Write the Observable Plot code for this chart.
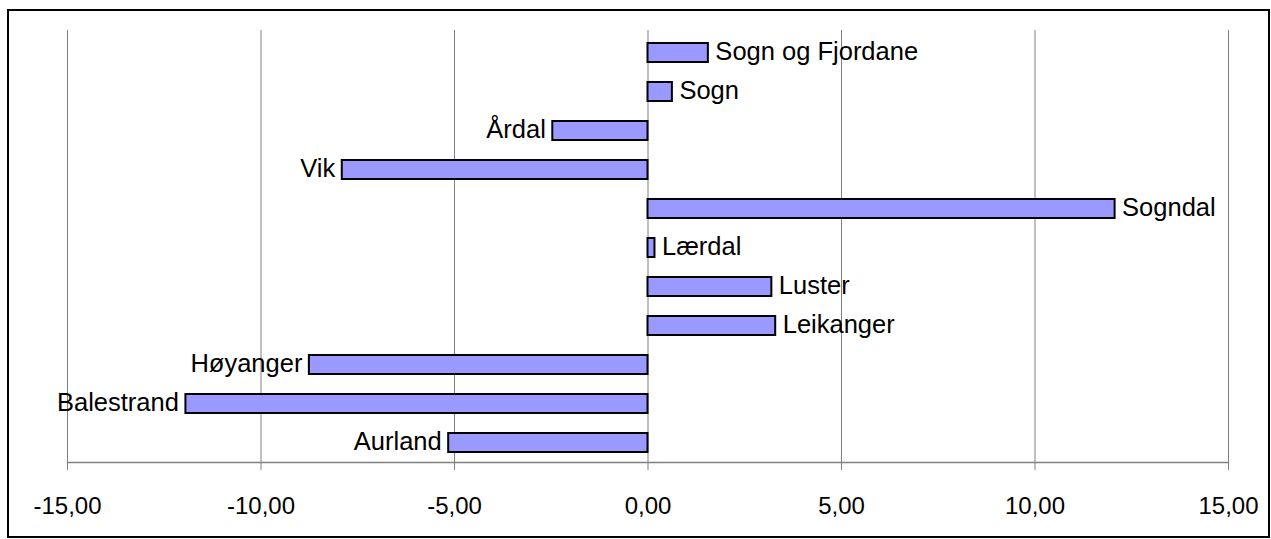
<!DOCTYPE html>
<html>
<head>
<meta charset="utf-8">
<script src="https://cdn.jsdelivr.net/npm/d3@7"></script>
<script src="https://cdn.jsdelivr.net/npm/@observablehq/plot@0.6"></script>
<style>
  html, body { margin: 0; padding: 0; background: #fff; }
  #wrap { position: relative; width: 1271px; height: 539px; overflow: hidden; }
  #frame { position: absolute; left: 7px; top: 9px; right: 1px; bottom: 1px; border: 2px solid #000; box-sizing: border-box; pointer-events: none; }
  #chart { position: absolute; left: 0; top: 0; }
</style>
</head>
<body>
<div id="wrap"><div id="chart"></div><div id="frame"></div></div>
<script>
const regions = ["Sogn og Fjordane", "Sogn", "Årdal", "Vik", "Sogndal", "Lærdal", "Luster", "Leikanger", "Høyanger", "Balestrand", "Aurland"];
const values  = [1.56, 0.63, -2.46, -7.90, 12.07, 0.18, 3.20, 3.30, -8.75, -11.94, -5.15];
const xTicks  = [-15, -10, -5, 0, 5, 10, 15];

const data = regions.map((r, i) => ({region: r, value: values[i]}));
const fmt = d => (d < 0 ? "-" : "") + Math.abs(d).toFixed(2).replace(".", ",");

const chart = Plot.plot({
  width: 1271,
  height: 539,
  marginLeft: 67,
  marginRight: 43,
  marginTop: 30,
  marginBottom: 77,
  style: {fontFamily: "Arial, 'Liberation Sans', sans-serif", fontSize: "24px", color: "#000", background: "transparent"},
  x: {domain: [-15, 15], ticks: xTicks, tickFormat: fmt, label: null},
  y: {domain: regions, padding: 0.523, range: [21, 473], axis: null, label: null},
  marks: [
    Plot.ruleX(xTicks, {stroke: "#808080", strokeWidth: 1}),
    Plot.frame({anchor: "bottom", stroke: "#808080", strokeWidth: 1.5}),
    Plot.axisX({ticks: xTicks, tickFormat: fmt, tickSize: 8, tickPadding: 26, stroke: "#808080", fill: "#000", fontSize: 24, label: null}),
    Plot.barX(data, {y: "region", x1: 0, x2: "value", fill: "#9999ff", stroke: "#000", strokeWidth: 2}),
    Plot.text(data.filter(d => d.value >= 0), {y: "region", x: "value", text: "region", textAnchor: "start", dx: 7, dy: -1, fill: "#000", fontSize: 25.5}),
    Plot.text(data.filter(d => d.value < 0), {y: "region", x: "value", text: "region", textAnchor: "end", dx: -7, dy: -1, fill: "#000", fontSize: 25.5})
  ]
});
document.getElementById("chart").appendChild(chart);
</script>
</body>
</html>
